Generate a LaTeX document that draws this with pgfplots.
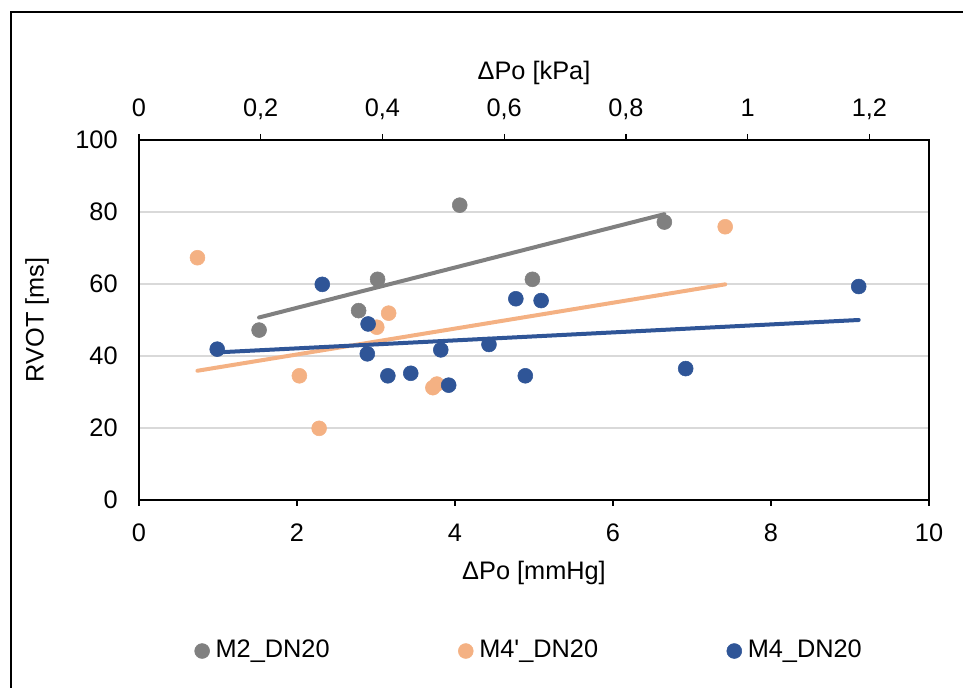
\documentclass[border=0pt]{standalone}
\usepackage{fontspec}
\setmainfont{Liberation Sans}
\newfontfamily\straight{Liberation Sans}[Ligatures=TeXOff]
\usepackage{pgfplots}
\pgfplotsset{compat=1.18}
\definecolor{cgray}{HTML}{808080}
\definecolor{corange}{HTML}{F4B183}
\definecolor{cblue}{HTML}{2F5597}
\definecolor{cgrid}{HTML}{D9D9D9}
\begin{document}
\fontsize{19}{22}\selectfont
\begin{tikzpicture}
\useasboundingbox (0,0) rectangle (722.25pt,516pt);
\draw[line width=1pt,black] (8.25pt,-30pt) -- (8.25pt,507pt) -- (760pt,507pt);
\begin{axis}[
  at={(104.25pt,141pt)}, anchor=south west,
  scale only axis, width=592.5pt, height=270pt,
  xmin=0, xmax=10, ymin=0, ymax=100,
  xtick={0,2,4,6,8,10}, ytick={0,20,40,60,80,100},
  xtick pos=bottom, ytick pos=left,
  tick align=outside, major tick length=4.5pt,
  ytick style={draw=none},
  ymajorgrids, grid style={cgrid, line width=1pt},
  axis line style={line width=1pt, black},
  xtick style={line width=1pt, black},
  tick label style={font=\fontsize{19}{22}\selectfont},
  xticklabel style={yshift=-7pt},
  yticklabel style={xshift=-5pt},
  /pgf/number format/assume math mode=true,
  legend columns=3,
  legend image code/.code={\draw[#1] plot coordinates {(0cm,0cm)};},
  legend style={draw=none, fill=none, font=\fontsize{19}{22}\selectfont,
    at={(0.4965,-0.4195)}, anchor=center,
    nodes={inner xsep=4.5pt, inner ysep=2pt},
    /tikz/every even column/.append style={column sep=92pt}},
]
\addplot[only marks, mark=*, mark size=5.6pt, cgray, mark options={draw=cgray, fill=cgray}]
  coordinates {(1.52,47.2) (2.78,52.6) (3.02,61.3) (4.06,81.9) (4.98,61.3) (6.65,77.2)};
\addlegendentry{M2\_DN20}
\addplot[only marks, mark=*, mark size=5.6pt, corange, mark options={draw=corange, fill=corange}]
  coordinates {(0.74,67.3) (2.03,34.5) (2.28,19.9) (3.01,48.0) (3.16,51.9) (3.72,31.2) (3.77,32.2) (7.42,75.9)};
\addlegendentry{M4{\straight '}\_DN20}
\addplot[only marks, mark=*, mark size=5.6pt, cblue, mark options={draw=cblue, fill=cblue}]
  coordinates {(0.99,41.9) (2.32,59.9) (2.89,40.6) (2.90,48.9) (3.15,34.5) (3.44,35.2) (3.82,41.7) (3.92,31.9) (4.43,43.2) (4.77,55.9) (4.89,34.5) (5.09,55.4) (6.92,36.5) (9.11,59.3)};
\addlegendentry{M4\_DN20}
\addplot[cgray, line width=3pt, line cap=round, forget plot] coordinates {(1.52,50.7) (6.65,79.4)};
\addplot[corange, line width=3pt, line cap=round, forget plot] coordinates {(0.74,35.9) (7.42,59.9)};
\addplot[cblue, line width=3pt, line cap=round, forget plot] coordinates {(0.99,41.0) (9.11,50.0)};
\end{axis}
\begin{axis}[
  at={(104.25pt,141pt)}, anchor=south west,
  scale only axis, width=592.5pt, height=270pt,
  xmin=0, xmax=1.298, ymin=0, ymax=100,
  axis x line*=top, hide y axis,
  xtick={0,0.2,0.4,0.6,0.8,1,1.2},
  tick align=outside, major tick length=4.5pt,
  axis line style={line width=1pt, black},
  xtick style={line width=1pt, black},
  tick label style={font=\fontsize{19}{22}\selectfont},
  xticklabel style={text depth=3pt, yshift=3.5pt},
  /pgf/number format/assume math mode=true,
  /pgf/number format/use comma,
]
\end{axis}
\node at (400.5pt,461.25pt) {ΔPo [kPa]};
\node at (400.5pt,86.25pt) {ΔPo [mmHg]};
\node[rotate=90] at (27.75pt,276pt) {RVOT [ms]};
\end{tikzpicture}
\end{document}
